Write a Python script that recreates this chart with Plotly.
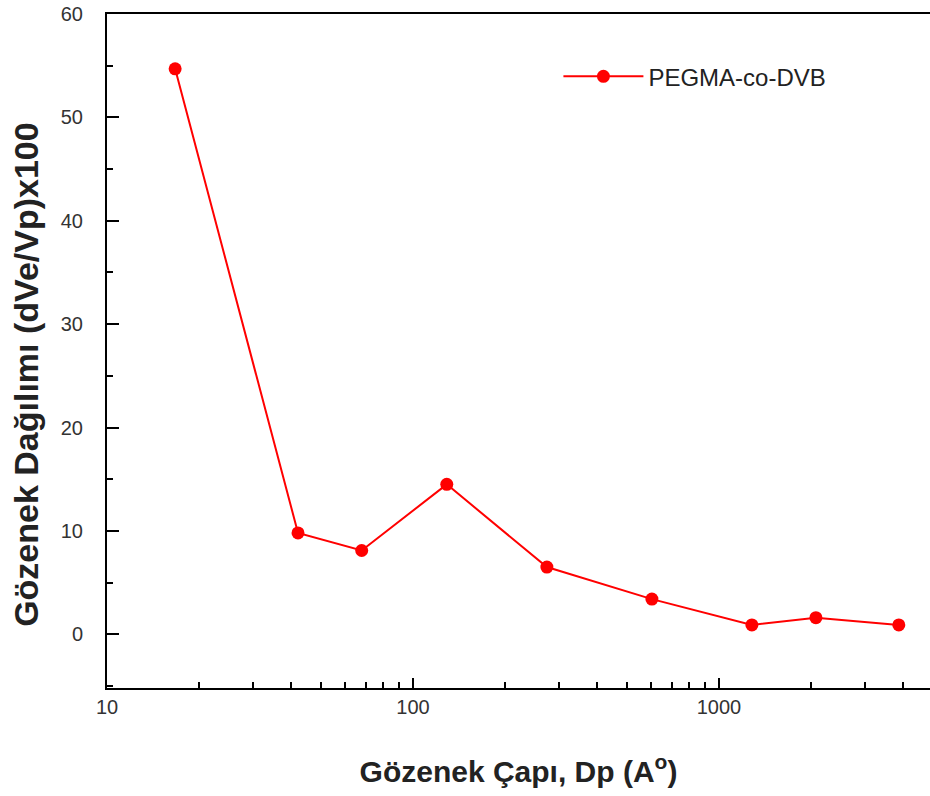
import plotly.graph_objects as go

pore_diameter = [16.7, 42.1, 68, 129, 274, 604, 1282, 2075, 3873]
distribution = [54.7, 9.8, 8.1, 14.5, 6.5, 3.4, 0.9, 1.6, 0.9]
series_name = "PEGMA-co-DVB"

x_major = [10, 100, 1000]
x_minor = [v * m for m in (10, 100, 1000) for v in range(2, 10) if v * m < 5000]

fig = go.Figure()
fig.add_trace(go.Scatter(
    x=pore_diameter, y=distribution, mode="lines+markers", name=series_name,
    line=dict(color="#ff0000", width=2),
    marker=dict(color="#ff0000", size=13),
))

fig.update_layout(
    width=930, height=796,
    margin=dict(l=107, r=0, t=14, b=108),
    plot_bgcolor="white", paper_bgcolor="white",
    font=dict(family="Liberation Sans, Arial", color="#222"),
    showlegend=True,
    legend=dict(x=0.5485, y=0.907, xanchor="left", yanchor="middle",
                font=dict(size=24, color="#222"), bgcolor="rgba(0,0,0,0)",
                itemwidth=80),
)
fig.update_xaxes(
    type="log", range=[1, 3.69], automargin=False,
    tickmode="array", tickvals=x_major, ticktext=[str(v) for v in x_major],
    ticks="inside", ticklen=10, tickwidth=2, tickcolor="black",
    minor=dict(tickmode="array", tickvals=x_minor, ticks="inside", ticklen=6, tickwidth=1.5, tickcolor="black", showgrid=False),
    showline=True, linecolor="black", linewidth=2, mirror=True,
    showgrid=False, zeroline=False,
    tickfont=dict(size=20, color="#333"),
    ticklabeloverflow="allow",
    title=dict(text="<b>Gözenek Çapı, Dp (A<sup>o</sup>)</b>", font=dict(size=30, color="#222"), standoff=44),
)
fig.update_yaxes(
    range=[-5.2, 60], automargin=False,
    tickmode="linear", tick0=0, dtick=10,
    ticks="inside", ticklen=12, tickwidth=2, tickcolor="black",
    minor=dict(tick0=0, dtick=5, ticks="inside", ticklen=6, tickwidth=1.5, tickcolor="black", showgrid=False),
    showline=True, linecolor="black", linewidth=2, mirror=True,
    showgrid=False, zeroline=False,
    tickfont=dict(size=20, color="#333"),
    ticklabelstandoff=18,
    ticklabeloverflow="allow",
    title=dict(text="<b>Gözenek Dağılımı (dVe/Vp)x100</b>&nbsp;&nbsp;&nbsp;&nbsp;&nbsp;",
               font=dict(size=34, color="#222"),
               standoff=12),
)

fig.write_html(
    "out.html",
    config={"displayModeBar": False},
    post_script="document.body.style.margin='0px';document.body.style.overflow='hidden';",
)
